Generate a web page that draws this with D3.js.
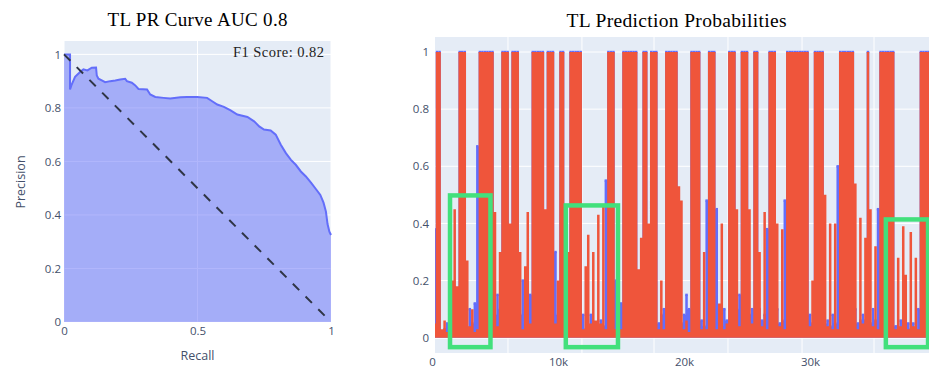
<!DOCTYPE html>
<html><head><meta charset="utf-8">
<script src="https://cdn.jsdelivr.net/npm/d3@7"></script>
<style>body{margin:0;background:#fff}svg{display:block}</style>
</head><body>
<svg id="chart" width="929" height="369"></svg>
<script>
// ---------- data: PR curve ----------
const prTitle = "TL PR Curve AUC 0.8";
const f1Label = "F1 Score: 0.82";
const prRecall = [0, 0.0226, 0.0226, 0.0288, 0.0414, 0.0602, 0.0727, 0.0877, 0.104, 0.120, 0.1228, 0.129, 0.1416, 0.154, 0.173, 0.192, 0.2105, 0.229, 0.2356, 0.254, 0.267, 0.279, 0.311, 0.323, 0.342, 0.373, 0.398, 0.436, 0.461, 0.499, 0.536, 0.555, 0.574, 0.599, 0.624, 0.649, 0.687, 0.712, 0.731, 0.749, 0.774, 0.793, 0.812, 0.831, 0.850, 0.868, 0.887, 0.906, 0.925, 0.944, 0.960, 0.972, 0.981, 0.987, 0.994, 1.0];
const prPrecision = [1.0, 1.0, 0.869, 0.8875, 0.916, 0.934, 0.944, 0.94, 0.95, 0.951, 0.921, 0.909, 0.9025, 0.896, 0.9, 0.9025, 0.906, 0.909, 0.9, 0.894, 0.884, 0.871, 0.869, 0.85, 0.841, 0.8375, 0.835, 0.84, 0.841, 0.841, 0.8375, 0.825, 0.8125, 0.804, 0.791, 0.775, 0.766, 0.75, 0.731, 0.719, 0.716, 0.70, 0.6625, 0.631, 0.606, 0.5875, 0.5625, 0.544, 0.521, 0.496, 0.475, 0.446, 0.4125, 0.366, 0.3375, 0.325];
const baselineRecall = [0, 1];
const baselinePrecision = [1, 0];
const prTicksX = [0, 0.5, 1];
const prTicksY = [0, 0.2, 0.4, 0.6, 0.8, 1];

// ---------- data: prediction probabilities ----------
const probTitle = "TL Prediction Probabilities";
const sampleStep = 200;
const redProb = [
 0.40,0.05,1,1,0.03,0.06,0.02,0.05,0.20,0.45,
 0.18,1,1,1,0.27,0.04,0.10,0.02,0.03,1,
 1,1,1,1,1,0.44,0.04,0.30,1,1,
 1,0.40,1,1,1,0.30,0.03,0.25,0.44,0.05,
 1,1,1,1,1,0.45,1,1,1,0.05,
 0.20,1,1,0.03,0.30,1,1,1,1,1,
 0.03,0.25,0.36,0.05,0.30,0.06,0.43,0.05,0.46,0.03,
 1,1,1,0.03,0.10,0.03,1,1,1,1,
 1,1,0.24,0.35,1,1,0.40,1,1,1,
 0.03,0.20,0.03,1,1,1,1,1,0.53,0.48,
 0.03,0.06,0.02,1,1,1,1,0.03,0.30,0.03,
 1,1,1,0.03,0.12,0.40,0.03,0.05,1,1,
 1,0.45,0.04,1,1,1,0.45,0.05,1,1,
 0.30,0.04,0.44,0.03,1,1,1,0.40,0.04,0.38,
 0.03,1,1,1,1,1,1,1,1,1,
 0.04,0.20,1,1,1,1,0.50,0.04,0.40,0.03,
 0.40,0.03,1,1,1,1,1,1,0.54,0.03,
 0.42,0.05,0.35,1,0.45,0.04,0.32,0.03,1,1,
 1,1,1,1,0.03,0.28,0.04,0.39,0.22,0.03,
 0.37,0.04,0.28,0.03,1,1,1,1,1,1,
 1,1,1,1,1,1];
const blueProb = [
 0.38,0.38,1,1,0.02,0.03,0.05,0.02,0.04,0.05,
 0.10,1,1,1,0.03,0.10,0.05,0.12,0.67,1,
 1,1,1,1,1,0.08,0.15,0.10,1,1,
 1,0.05,1,1,1,0.08,0.20,0.05,0.06,0.15,
 1,1,1,1,1,0.10,1,1,1,0.30,
 0.08,1,1,0.12,0.05,1,1,1,1,1,
 0.08,0.03,0.03,0.08,0.03,0.05,0.03,0.06,0.04,0.55,
 1,1,1,0.20,0.05,0.12,1,1,1,1,
 1,1,0.05,0.10,1,1,0.06,1,1,1,
 0.05,0.08,0.10,1,1,1,1,1,0.05,0.05,
 0.08,0.15,0.10,1,1,1,1,0.06,0.04,0.48,
 1,1,1,0.45,0.05,0.04,0.10,0.06,1,1,
 1,0.10,0.15,1,1,1,0.08,0.10,1,1,
 0.10,0.06,0.08,0.38,1,1,1,0.10,0.05,0.06,
 0.48,1,1,1,1,1,1,1,1,1,
 0.08,0.05,1,1,1,1,0.05,0.06,0.04,0.08,
 0.05,0.60,1,1,1,1,1,1,0.10,0.05,
 0.06,0.08,0.06,1,0.05,0.10,0.06,0.45,1,1,
 1,1,1,1,0.04,0.03,0.06,0.03,0.03,0.05,
 0.03,0.05,0.03,0.10,1,1,1,1,1,1,
 1,1,1,1,1,1];
const probTicksX = [0, 10000, 20000, 30000];
const probTickLabelsX = ["0", "10k", "20k", "30k"];
const probTicksY = [0, 0.2, 0.4, 0.6, 0.8, 1];
const probGridX = [6030, 11900, 17620, 23490, 29370, 35080];
// highlight rectangles (data coordinates)
const boxX0 = [1430, 10620, 36020];
const boxX1 = [4640, 14760, 39370];
const boxTop = [0.498, 0.463, 0.414];
const boxBottom = [-0.033, -0.033, -0.033];

// ---------- drawing ----------
const svg = d3.select("#chart");
const tickFont = "'Open Sans', 'Noto Sans', sans-serif";
const tickColor = "#44506a";
const bgColor = "#E5ECF6";
const blue = "#636efa", red = "#EF553B", green = "#42e07c";

function styleAxis(g) {
  g.select(".domain").remove();
  g.selectAll("text").attr("font-family", tickFont).attr("font-size", 11.5).attr("fill", tickColor);
}

// ===== Left: PR curve =====
const xL = d3.scaleLinear().domain([0, 1]).range([64, 331]);
const yL = d3.scaleLinear().domain([0, 1.05]).range([322, 41]);
const left = svg.append("g");
left.append("rect").attr("x", xL(0)).attr("y", yL(1.05)).attr("width", xL(1) - xL(0)).attr("height", yL(0) - yL(1.05)).attr("fill", bgColor);
left.append("g").selectAll("line").data(prTicksY).join("line")
  .attr("x1", xL(0)).attr("x2", xL(1)).attr("y1", d => yL(d)).attr("y2", d => yL(d))
  .attr("stroke", "#fff").attr("stroke-width", 1);
left.append("g").selectAll("line").data(prTicksX).join("line")
  .attr("x1", d => xL(d)).attr("x2", d => xL(d)).attr("y1", yL(0)).attr("y2", yL(1.05))
  .attr("stroke", "#fff").attr("stroke-width", 1);
const prPts = prRecall.map((r, i) => [r, prPrecision[i]]);
left.append("path").datum(prPts)
  .attr("d", d3.area().x(d => xL(d[0])).y0(yL(0)).y1(d => yL(d[1])))
  .attr("fill", blue).attr("fill-opacity", 0.5);
left.append("path").datum(prPts)
  .attr("d", d3.line().x(d => xL(d[0])).y(d => yL(d[1])))
  .attr("fill", "none").attr("stroke", blue).attr("stroke-width", 2);
left.append("path").datum(baselineRecall.map((r, i) => [r, baselinePrecision[i]]))
  .attr("d", d3.line().x(d => xL(d[0])).y(d => yL(d[1])))
  .attr("fill", "none").attr("stroke", "#2f3545").attr("stroke-width", 2).attr("stroke-dasharray", "9,9");
left.append("g").attr("transform", `translate(${xL(0)},0)`)
  .call(d3.axisLeft(yL).tickValues(prTicksY).tickSize(0).tickPadding(3).tickFormat(d3.format("~g")))
  .call(styleAxis);
left.append("g").attr("transform", `translate(0,${yL(0)})`)
  .call(d3.axisBottom(xL).tickValues(prTicksX).tickSize(0).tickPadding(5).tickFormat(d3.format("~g")))
  .call(styleAxis);
left.append("text").attr("x", 197.5).attr("y", 26).attr("text-anchor", "middle")
  .attr("font-family", "'Liberation Serif', 'DejaVu Serif', serif").attr("font-size", 19)
  .attr("textLength", 180).attr("fill", "#000").text(prTitle);
left.append("text").attr("x", 324).attr("y", 56.5).attr("text-anchor", "end")
  .attr("font-family", "'Liberation Serif', 'DejaVu Serif', serif").attr("font-size", 14.5)
  .attr("textLength", 91).attr("fill", "#222").text(f1Label);
left.append("text").attr("transform", "translate(20,182) rotate(-90)").attr("text-anchor", "middle")
  .attr("dominant-baseline", "central")
  .attr("font-family", tickFont).attr("font-size", 12.5).attr("fill", tickColor).text("Precision");
left.append("text").attr("x", 197.5).attr("y", 360).attr("text-anchor", "middle")
  .attr("font-family", tickFont).attr("font-size", 12.5).attr("fill", tickColor).text("Recall");

// ===== Right: prediction probabilities =====
const xR = d3.scaleLinear().domain([0, 10000]).range([432, 558]);
const yR = d3.scaleLinear().domain([-0.0535, 1.0525]).range([353, 37]);
const plotR = {x0: 435, x1: 929, y0: yR(1.0525), y1: yR(-0.0535)};
const right = svg.append("g");
right.append("rect").attr("x", plotR.x0).attr("y", plotR.y0).attr("width", plotR.x1 - plotR.x0 + 40).attr("height", plotR.y1 - plotR.y0).attr("fill", bgColor);
svg.append("defs").append("clipPath").attr("id", "clipR").append("rect")
  .attr("x", plotR.x0).attr("y", plotR.y0 - 3).attr("width", plotR.x1 - plotR.x0 + 40).attr("height", plotR.y1 - plotR.y0 + 3);
right.append("g").selectAll("line").data(probTicksY).join("line")
  .attr("x1", plotR.x0).attr("x2", plotR.x1 + 40).attr("y1", d => yR(d)).attr("y2", d => yR(d))
  .attr("stroke", "#fff").attr("stroke-width", d => d === 0 ? 2 : 1);
right.append("g").selectAll("line").data(probGridX).join("line")
  .attr("x1", d => xR(d)).attr("x2", d => xR(d)).attr("y1", plotR.y0).attr("y2", plotR.y1)
  .attr("stroke", "#fff").attr("stroke-width", 1);
const dataG = right.append("g").attr("clip-path", "url(#clipR)");
const probArea = d3.area().curve(d3.curveStep).x((d, i) => xR(i * sampleStep)).y0(yR(0)).y1(d => yR(d));
const halfStep = (xR(sampleStep) - xR(0)) / 2;
// blue trace (behind)
dataG.append("path").datum(blueProb).attr("d", probArea).attr("fill", blue);
dataG.append("g").selectAll("line").data(blueProb).join("line")
  .attr("x1", (d, i) => xR(i * sampleStep) - halfStep).attr("x2", (d, i) => xR(i * sampleStep) + halfStep)
  .attr("y1", d => yR(d)).attr("y2", d => yR(d))
  .attr("stroke", blue).attr("stroke-width", 2.4);
// red trace (front)
dataG.append("path").datum(redProb).attr("d", probArea).attr("fill", red);
right.append("g").selectAll("rect").data(boxX0).join("rect")
  .attr("x", (d) => xR(d)).attr("y", (d, i) => yR(boxTop[i]))
  .attr("width", (d, i) => xR(boxX1[i]) - xR(d)).attr("height", (d, i) => yR(boxBottom[i]) - yR(boxTop[i]))
  .attr("fill", "none").attr("stroke", green).attr("stroke-width", 4.5);
right.append("g").attr("transform", `translate(${plotR.x0},0)`)
  .call(d3.axisLeft(yR).tickValues(probTicksY).tickSize(0).tickPadding(6).tickFormat(d3.format("~g")))
  .call(styleAxis);
right.append("g").attr("transform", `translate(0,${plotR.y1})`)
  .call(d3.axisBottom(xR).tickValues(probTicksX).tickSize(0).tickPadding(5).tickFormat((d, i) => probTickLabelsX[i]))
  .call(styleAxis);
right.append("text").attr("x", 676.6).attr("y", 27).attr("text-anchor", "middle")
  .attr("font-family", "'Liberation Serif', 'DejaVu Serif', serif").attr("font-size", 19.5)
  .attr("textLength", 220).attr("fill", "#000").text(probTitle);
</script>
</body></html>
